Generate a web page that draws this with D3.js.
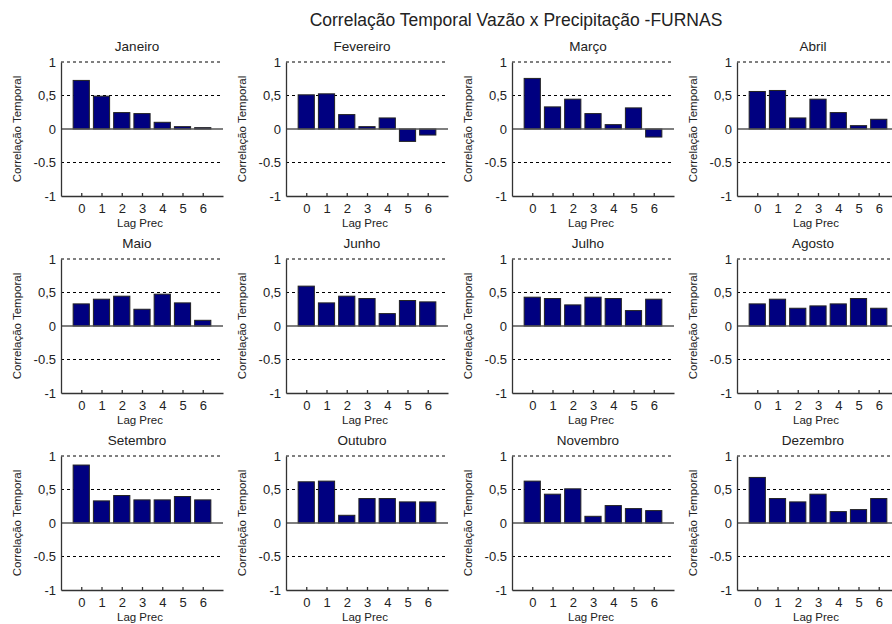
<!DOCTYPE html>
<html lang="pt">
<head>
    <meta charset="UTF-8">
    <title>Correlação Temporal Vazão x Precipitação -FURNAS</title>
    <style>
        body { margin: 0; background: #fff; }
        svg { display: block; font-family: "Liberation Sans", Arial, sans-serif; }
        .grid { stroke: #000; stroke-width: 1; stroke-dasharray: 3,3; }
        .zero { stroke: #555; stroke-width: 1.5; }
        .bar { fill: #000080; stroke: #222; stroke-width: 1; }
        .axis path, .axis line { stroke: #333; stroke-width: 1.3; }
        .axis text { font-size: 13px; fill: #222; }
        .ttl { font-size: 13.5px; fill: #222; text-anchor: middle; }
        .lbl { font-size: 11.5px; fill: #222; text-anchor: middle; }
    </style>
</head>
<body>
    <svg width="892" height="624"></svg>
    <script src="https://d3js.org/d3.v7.min.js"></script>
    <script>
        const meses = ["Janeiro", "Fevereiro", "Março", "Abril", "Maio", "Junho",
                       "Julho", "Agosto", "Setembro", "Outubro", "Novembro", "Dezembro"];
        const lags = [0, 1, 2, 3, 4, 5, 6];
        const yTicks = [-1, -0.5, 0, 0.5, 1];
        const yTickLabels = ["-1", "-0.5", "0", "0,5", "1"];

        const janeiro   = [0.725, 0.49, 0.245, 0.23, 0.10, 0.035, 0.02];
        const fevereiro = [0.51, 0.525, 0.215, 0.035, 0.165, -0.185, -0.09];
        const marco     = [0.755, 0.33, 0.445, 0.23, 0.065, 0.315, -0.12];
        const abril     = [0.56, 0.575, 0.165, 0.445, 0.245, 0.05, 0.145];
        const maio      = [0.33, 0.40, 0.445, 0.25, 0.475, 0.345, 0.085];
        const junho     = [0.595, 0.345, 0.445, 0.41, 0.185, 0.38, 0.36];
        const julho     = [0.43, 0.41, 0.315, 0.43, 0.41, 0.23, 0.40];
        const agosto    = [0.33, 0.40, 0.265, 0.30, 0.33, 0.41, 0.265];
        const setembro  = [0.865, 0.33, 0.41, 0.345, 0.345, 0.395, 0.345];
        const outubro   = [0.615, 0.625, 0.115, 0.365, 0.365, 0.315, 0.315];
        const novembro  = [0.625, 0.43, 0.51, 0.10, 0.26, 0.215, 0.185];
        const dezembro  = [0.68, 0.365, 0.315, 0.43, 0.17, 0.20, 0.365];

        const valores = [janeiro, fevereiro, marco, abril, maio, junho,
                         julho, agosto, setembro, outubro, novembro, dezembro];

        const svg = d3.select("svg");

        const colX = [61, 286, 512, 737];
        const rowY = [62, 259, 456];
        const w = 162, h = 134;

        const x = d3.scaleLinear().domain([-1, 7]).range([0, w]);
        const y = d3.scaleLinear().domain([-1, 1]).range([h, 0]);
        const bw = x(0.8) - x(0);

        svg.append("text")
            .attr("x", 516).attr("y", 26)
            .attr("text-anchor", "middle")
            .style("font-size", "17.5px").style("fill", "#222")
            .text("Correlação Temporal Vazão x Precipitação -FURNAS");

        meses.forEach((mes, i) => {
            const g = svg.append("g")
                .attr("transform", "translate(" + colX[i % 4] + "," + rowY[Math.floor(i / 4)] + ")");

            // linhas tracejadas
            g.selectAll(".grid")
                .data([1, 0.5, -0.5])
                .enter().append("line")
                .attr("class", "grid")
                .attr("x1", 0).attr("x2", w)
                .attr("y1", d => y(d)).attr("y2", d => y(d));

            g.selectAll(".bar")
                .data(valores[i])
                .enter().append("rect")
                .attr("class", "bar")
                .attr("x", (d, j) => x(lags[j]) - bw / 2)
                .attr("width", bw)
                .attr("y", d => y(Math.max(0, d)))
                .attr("height", d => Math.abs(y(d) - y(0)));

            g.append("line")
                .attr("class", "zero")
                .attr("x1", 0).attr("x2", w)
                .attr("y1", y(0)).attr("y2", y(0));

            g.append("g")
                .attr("class", "axis")
                .attr("transform", "translate(0," + h + ")")
                .call(d3.axisBottom(x).tickValues(lags).tickSize(-3).tickSizeOuter(0))
                .call(a => a.selectAll("text").attr("y", 17).attr("dy", 0));

            g.append("g")
                .attr("class", "axis")
                .call(d3.axisLeft(y).tickValues(yTicks).tickSize(0).tickPadding(5)
                    .tickFormat((d, k) => yTickLabels[k]));

            g.append("text")
                .attr("class", "ttl")
                .attr("x", w / 2 - 5).attr("y", -11)
                .text(mes);

            g.append("text")
                .attr("class", "lbl")
                .attr("x", w / 2 - 2).attr("y", h + 31)
                .text("Lag Prec");

            g.append("text")
                .attr("class", "lbl")
                .attr("transform", "translate(-40," + (h / 2) + ") rotate(-90)")
                .text("Correlação Temporal");
        });
    </script>
</body>
</html>
